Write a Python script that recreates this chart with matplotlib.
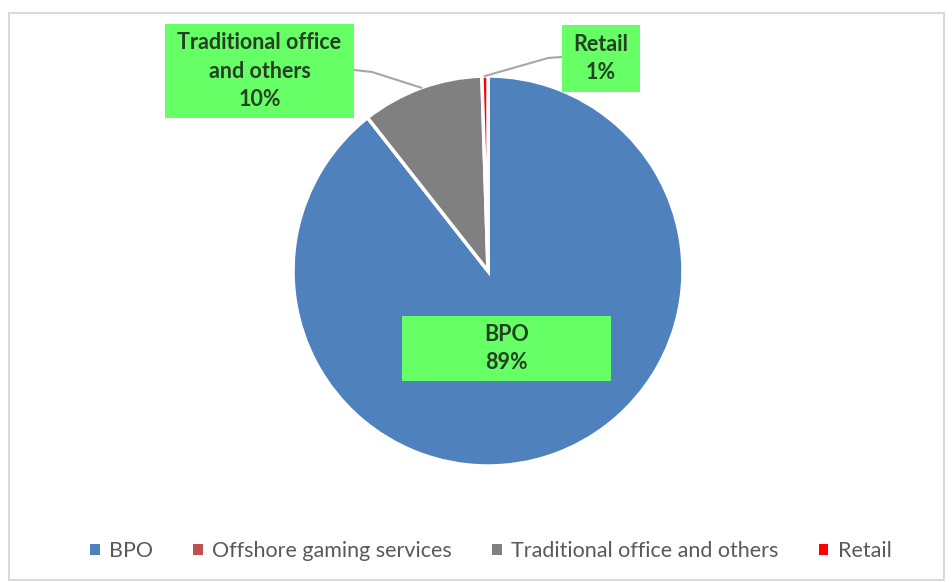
import numpy as np
import matplotlib.pyplot as plt
from matplotlib.patches import Rectangle

# data
categories = ['BPO', 'Offshore gaming services', 'Traditional office and others', 'Retail']
shares = [89.4, 0, 10.1, 0.5]
colors = ['#4F81BD', '#C0504D', '#808080', '#FF0000']
label_texts = ['BPO\n89%', None, 'Traditional office\nand others\n10%', 'Retail\n1%']

W, H = 953, 582
fig = plt.figure(figsize=(W / 100, H / 100), dpi=100)
ax = fig.add_axes([0, 0, 1, 1])

cx, cy, r = 488, H - 271, 195
wedges, _ = ax.pie(shares, colors=colors, startangle=90, counterclock=False,
                   center=(cx, cy), radius=r,
                   wedgeprops=dict(edgecolor='white', linewidth=2.5))
ax.set_xlim(0, W)
ax.set_ylim(0, H)
ax.set_aspect('equal')
ax.axis('off')

# chart border
ax.add_patch(Rectangle((9, 2), W - 18, H - 15, fill=False,
                       edgecolor='#d9d9d9', linewidth=1.5))

font = 'Lato'
txt_color = '#264026'
box_color = '#66FF66'

# label boxes (x0, y0 top in px, width, height)
boxes = {0: (402, 316, 209, 65), 2: (165, 24, 189, 94), 3: (562, 25, 78, 67)}
for i, (x0, y0, bw, bh) in boxes.items():
    ax.add_patch(Rectangle((x0, H - y0 - bh), bw, bh, facecolor=box_color,
                           edgecolor='none', zorder=3))
    ax.text(x0 + bw / 2, H - y0 - bh / 2, label_texts[i], ha='center', va='center',
            fontsize=15.5, fontweight='bold', color=txt_color, family=font,
            linespacing=1.42, zorder=4)

# leader lines from slice edge to box
def edge_point(w):
    ang = np.deg2rad((w.theta1 + w.theta2) / 2)
    return cx + r * np.cos(ang), cy + r * np.sin(ang)

px, py = edge_point(wedges[2])
ax.plot([px, 372, 354], [py, H - 72, H - 70], color='#A6A6A6', lw=1.5, zorder=2)
px, py = edge_point(wedges[3])
ax.plot([px, 548, 562], [py, H - 58, H - 57], color='#A6A6A6', lw=1.5, zorder=2)

leg = fig.legend(wedges, categories, loc='center', bbox_to_anchor=(0.515, 1 - 551 / H),
                 ncol=4, frameon=False, handlelength=0.45, handleheight=0.45,
                 handletextpad=0.45, columnspacing=1.85,
                 prop=dict(family=font, size=15.5))
for t in leg.get_texts():
    t.set_color('#595959')
for hnd in leg.legend_handles:
    hnd.set_edgecolor('none')

fig.savefig('out.png', dpi=100, facecolor='white')
